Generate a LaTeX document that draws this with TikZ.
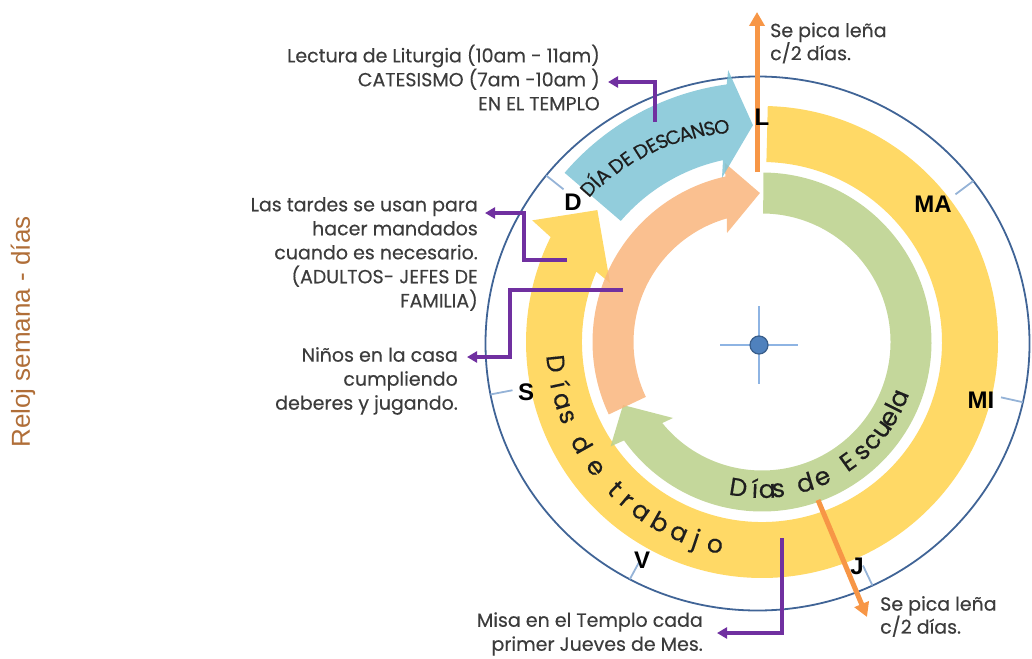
\documentclass[tikz,border=0pt]{standalone}
\usepackage{fontspec}
\setmainfont{Poppins}
\newfontfamily\txtfont{Poppins}[FakeBold=0.35]
\newfontfamily\dayfont{Liberation Sans}
\usetikzlibrary{arrows.meta}
\definecolor{cyellow}{RGB}{255,210,75}
\definecolor{cgreen}{RGB}{186,208,137}
\definecolor{corange}{RGB}{249,181,124}
\definecolor{cblue}{RGB}{127,196,214}
\definecolor{ccircle}{RGB}{64,100,150}
\definecolor{ctick}{RGB}{149,179,215}
\definecolor{cpurple}{RGB}{112,48,160}
\definecolor{carrow}{RGB}{247,150,70}
\definecolor{ctext}{RGB}{60,60,60}
\definecolor{cdark}{RGB}{30,30,30}
\definecolor{ctitle}{RGB}{176,110,56}
\definecolor{cdot}{RGB}{79,129,189}
\definecolor{cdotb}{RGB}{56,93,138}
\definecolor{ccross}{RGB}{142,180,227}
\begin{document}
\begin{tikzpicture}[x=1pt,y=1pt,
  bodytext/.style={text=ctext, inner sep=0pt, align=right, font=\txtfont\fontsize{19}{24}\selectfont},
  lefttext/.style={text=ctext, inner sep=0pt, align=left, font=\txtfont\fontsize{19}{23}\selectfont},
  daylabel/.style={font=\dayfont\bfseries\fontsize{24}{24}\selectfont, inner sep=0pt, text=black},
  conn/.style={draw=cpurple, line width=3.5pt, -{Triangle[length=10pt,width=11pt]}},
  orangearrow/.style={draw=carrow, line width=5pt, -{Triangle[length=14pt,width=15pt]}},
  tickmark/.style={draw=ctick, line width=1.8pt},
  band/.style={fill opacity=0.85},
  trab/.style={font=\txtfont\fontsize{25}{25}\selectfont, text=cdark, inner sep=0pt, anchor=base},
  escu/.style={font=\txtfont\fontsize{25}{25}\selectfont, text=cdark, inner sep=0pt, anchor=base},
  desc/.style={font=\txtfont\fontsize{19.5}{19.5}\selectfont, text=cdark, inner sep=0pt, anchor=base},
  crossline/.style={draw=ccross, line width=2.2pt}]
\useasboundingbox (0,0) rectangle (1032,-658);

% outer circle and ticks
\draw[draw=ccircle, line width=1.8pt] (757.5,-343.5) ellipse[x radius=272, y radius=267];
\begin{scope}[shift={(757.5,-343.5)}, xscale=1.0187]
  \foreach \a in {90,37.5,-12.7,-65,-118,-169,141}
    \draw[tickmark] (\a:245) -- (\a:267);
\end{scope}

\begin{scope}[shift={(762,-342)}]
  % yellow: Dias de trabajo
  \fill[cyellow, band] (88.6:236) arc[start angle=88.6, end angle=-206.4, radius=236]
    -- (152.1:260) -- (141.3:211) -- (158.8:163) -- (157:180)
    arc[start angle=-203, end angle=88.6, radius=180] -- cycle;
  % green: Dias de escuela
  \fill[cgreen, band] (89.5:169.5) arc[start angle=89.5, end angle=-144.5, radius=169.5]
    -- (214.6:184) -- (204.4:152.6) -- (220.5:117) -- (219.1:128.5)
    arc[start angle=-140.9, end angle=89.5, radius=128.5] -- cycle;
  % orange
  \fill[corange, band] (205.3:128.5) -- (205.3:169.5) arc[start angle=205.3, end angle=102.5, radius=169.5]
    -- (101.7:182.8) -- (90.8:149) -- (107.8:114.5) -- (105.9:128.5)
    arc[start angle=105.9, end angle=205.3, radius=128.5] -- cycle;
  % blue: dia de descanso
  \fill[cblue, band] (139.4:193) -- (139.4:260) arc[start angle=139.4, end angle=97.8, radius=260]
    -- (97.1:274) -- (92.4:217) -- (103.7:169) -- (102.1:186)
    arc[start angle=102.1, end angle=139.4, radius=186] -- cycle;

  % curved texts
  \foreach \c/\a in {D/186, í/192, a/196.5, s/201, d/209.5, e/217, t/225, r/229.5, a/234.5, b/240.5, a/246.5, j/251.5, o/257}
    \node[trab, rotate=\a+90] at (\a:216) {\c};
  \foreach \c/\a in {D/260.8, í/267.3, a/272, s/276.3, d/287, e/294, E/305.6, s/312.3, c/318, u/324, e/329, l/333.4, a/337.6}
    \node[escu, rotate=\a+90] at (\a:156) {\c};
  \foreach \c/\a/\r in {D/138.5/225, Í/136.15/224.2, A/133.87/223.4, D/129.47/221.9, E/126.44/220.9, D/122.28/219.4, E/119.26/218.4, S/116.5/217.5, C/113.48/216.4, A/110.25/215.3, N/106.93/214.2, S/103.81/213.1, O/100.6/212}
    \node[desc, rotate=\a-90] at (\a:\r) {\c};
\end{scope}

% centre cross
\coordinate (hl) at (720,-345); \coordinate (hr) at (798,-345);
\coordinate (vt) at (759,-306); \coordinate (vb) at (759,-384);
\draw[crossline] (hl) -- (hr);
\draw[crossline] (vt) -- (vb);
\node[circle, fill=cdot, draw=cdotb, line width=1.2pt, minimum size=18pt, inner sep=0pt] (hub) at (759,-345) {};

% orange arrows
\coordinate (o1) at (757,-172); \coordinate (o1t) at (757,-12);
\coordinate (o2) at (818,-500); \coordinate (o2t) at (867,-617);
\draw[orangearrow] (o1) -- (o1t);
\draw[orangearrow] (o2) -- (o2t);

% day labels
\node[daylabel] (dL) at (762,-117) {L};
\node[daylabel] (dMA) at (933,-204) {MA};
\node[daylabel] (dMI) at (981,-400) {MI};
\node[daylabel] (dJ) at (857,-566) {J};
\node[daylabel] (dV) at (642,-560) {V};
\node[daylabel] (dS) at (526,-392) {S};
\node[daylabel] (dD) at (573,-202) {D};

% text blocks
\node[bodytext, anchor=east] (lit) at (600,-77.5) {Lectura de Liturgia (10am - 11am)\\CATESISMO (7am -10am )\\EN EL TEMPLO};
\node[bodytext, anchor=east] (tardes) at (478,-254) {Las tardes se usan para\\hacer mandados\\cuando es necesario.\\(ADULTOS- JEFES DE\\FAMILIA)};
\node[bodytext, anchor=east] (ninos) at (458,-381) {Niños en la casa\\cumpliendo\\deberes y jugando.};
\node[bodytext, anchor=east] (misa) at (703,-634) {Misa en el Templo cada\\primer Jueves de Mes.};
\node[lefttext, anchor=west] (lena1) at (770,-43) {Se pica leña\\c/2 días.};
\node[lefttext, anchor=west] (lena2) at (880,-616.5) {Se pica leña\\c/2 días.};
\node[rotate=90, inner sep=0pt, text=ctitle, font=\dayfont\fontsize{26}{26}\selectfont] (title) at (23,-332) {Reloj semana - días};

% purple connectors
\coordinate (c1) at (655,-122); \coordinate (t1) at (608,-82);
\coordinate (c2) at (567,-260); \coordinate (k2) at (524,-213); \coordinate (t2) at (485,-213);
\coordinate (c3) at (623,-290); \coordinate (k3) at (510,-357); \coordinate (t3) at (467,-357);
\coordinate (c4) at (782,-538); \coordinate (t4) at (717,-633);
\draw[conn] (c1) |- (t1);
\draw[conn] (c2) -| (k2) -- (t2);
\draw[conn] (c3) -| (k3) -- (t3);
\draw[conn] (c4) |- (t4);
\end{tikzpicture}
\end{document}
